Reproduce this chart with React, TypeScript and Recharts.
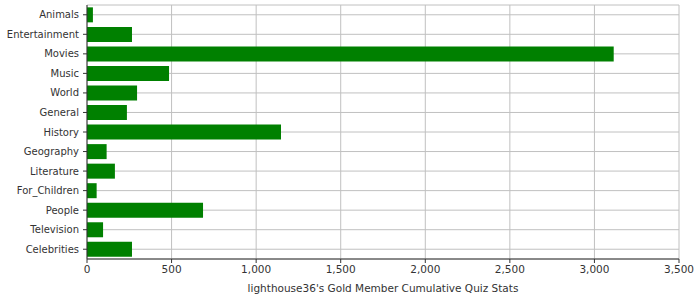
import { BarChart, Bar, XAxis, YAxis, CartesianGrid } from 'recharts'

const categories = [
  'Animals',
  'Entertainment',
  'Movies',
  'Music',
  'World',
  'General',
  'History',
  'Geography',
  'Literature',
  'For_Children',
  'People',
  'Television',
  'Celebrities',
]

const scores = [35, 266, 3114, 485, 296, 236, 1147, 116, 165, 57, 686, 95, 266]

const xTicks = [0, 500, 1000, 1500, 2000, 2500, 3000, 3500]

const data = categories.map((name, i) => ({ name, value: scores[i] }))

const FONT = '"DejaVu Sans", sans-serif'
const TEXT = '#333333'
const AXIS = '#333333'

export default function App() {
  return (
    <div style={{ position: 'absolute', left: 0, top: 0, background: '#fff' }}>
      <BarChart
        width={700}
        height={300}
        data={data}
        layout="vertical"
        margin={{ top: 5, right: 21, bottom: 0, left: 0 }}
        barCategoryGap="12%"
      >
        <CartesianGrid stroke="#c0c0c0" strokeWidth={1} />
        <XAxis
          type="number"
          domain={[0, 3500]}
          ticks={xTicks}
          tickFormatter={(v) => Number(v).toLocaleString('en-US')}
          height={41}
          tickSize={4}
          tickMargin={3}
          stroke={AXIS}
          tick={{ fill: TEXT, fontSize: 10.5, fontFamily: FONT }}
          label={{
            value: "lighthouse36's Gold Member Cumulative Quiz Stats",
            position: 'insideBottom',
            offset: 8,
            fill: TEXT,
            fontSize: 10.5,
            fontFamily: FONT,
          }}
        />
        <XAxis
          xAxisId="top"
          orientation="top"
          type="number"
          domain={[0, 3500]}
          height={0}
          tick={false}
          tickLine={false}
          stroke={AXIS}
        />
        <YAxis
          type="category"
          dataKey="name"
          width={87}
          tickSize={4}
          tickMargin={4}
          interval={0}
          stroke={AXIS}
          tick={{ fill: TEXT, fontSize: 10, fontFamily: FONT }}
        />
        <YAxis
          yAxisId="right"
          orientation="right"
          type="number"
          domain={[0, 1]}
          width={0}
          tick={false}
          tickLine={false}
          stroke={AXIS}
        />
        <Bar dataKey="value" fill="#008000" isAnimationActive={false} />
      </BarChart>
    </div>
  )
}
